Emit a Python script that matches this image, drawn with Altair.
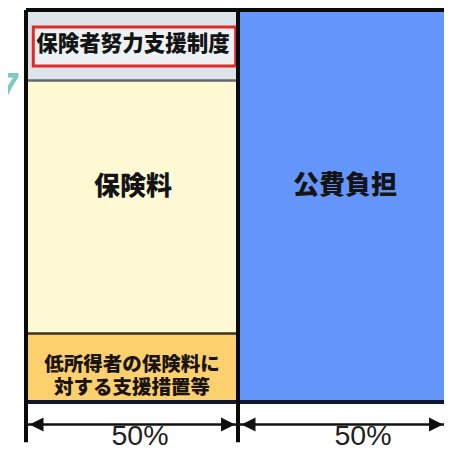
import altair as alt
import pandas as pd

# ---------------- data ----------------
column_names = ["保険料", "公費負担"]
column_shares = [50, 50]
share_labels = ["50%", "50%"]
left_parts = ["保険者努力支援制度", "保険料", "低所得者の保険料に\n対する支援措置等"]
left_part_heights = [18, 64.5, 17.5]
corner_fragment = ["7"]

# ---------------- styles ----------------
left_colors = ["#dde4e9", "#fffad4", "#fdd06e"]
right_color = "#6495fa"
separator_colors = ["#5f6a70", "#3b3322"]

# ---------------- derived tables ----------------
col_x0 = [sum(column_shares[:i]) for i in range(len(column_shares))]
col_x1 = [a + b for a, b in zip(col_x0, column_shares)]
col_mid = [(a + b) / 2 for a, b in zip(col_x0, col_x1)]
total_h = sum(left_part_heights)
tops, acc = [], total_h
for h in left_part_heights:
    tops.append(acc)
    acc -= h
bots = [t - h for t, h in zip(tops, left_part_heights)]
mids = [(t + b) / 2 for t, b in zip(tops, bots)]

X = alt.Scale(domain=[0, 100], range=[18, 442])
Y = alt.Scale(domain=[0, 100], range=[394, 2])
below_arrow = -5.75
below_label = -8.8
below_tick = -10.25


def xq(f):
    return alt.X(f, type="quantitative", scale=X, axis=None)


def yq(f):
    return alt.Y(f, type="quantitative", scale=Y, axis=None)


rect_df = pd.DataFrame({
    "x": [col_x0[0]] * len(left_parts) + [col_x0[1]],
    "x2": [col_x1[0]] * len(left_parts) + [col_x1[1]],
    "y": tops + [total_h],
    "y2": bots + [0],
    "fill": left_colors + [right_color],
})

rects = alt.Chart(rect_df).mark_rect().encode(
    x=xq("x"), x2="x2", y=yq("y"), y2="y2",
    color=alt.Color("fill:N", scale=None),
)

# red box around the top part label
red_df = pd.DataFrame({"x": [col_x0[0]], "x2": [col_x1[0]], "y": [tops[0]], "y2": [bots[0]]})
red_box = alt.Chart(red_df).mark_rect(
    fill="#eef1f4", stroke="#e02a2a", strokeWidth=3,
    xOffset=7.3, x2Offset=-2.3, yOffset=17, y2Offset=-14.5,
).encode(x=xq("x"), x2="x2", y=yq("y"), y2="y2")

# separators inside left column
sep_df = pd.DataFrame({
    "x": [col_x0[0]] * (len(left_parts) - 1),
    "x2": [col_x1[0]] * (len(left_parts) - 1),
    "y": bots[:-1],
    "c": separator_colors,
})
separators = alt.Chart(sep_df).mark_rule(strokeWidth=2.5).encode(
    x=xq("x"), x2="x2", y=yq("y"), color=alt.Color("c:N", scale=None)
)

# frame: top & bottom borders
hb_df = pd.DataFrame({"x": [col_x0[0], col_x0[0]], "x2": [col_x1[-1], col_x1[-1]],
                      "y": [total_h, 0], "c": ["#0a0a0a", "#101830"]})
hborders = alt.Chart(hb_df).mark_rule(strokeWidth=4).encode(
    x=xq("x"), x2="x2", y=yq("y"), color=alt.Color("c:N", scale=None)
)

# vertical borders extending down to the arrows
vb_df = pd.DataFrame({"x": col_x0, "y": [total_h] * len(col_x0), "y2": [below_tick] * len(col_x0)})
vborders = alt.Chart(vb_df).mark_rule(strokeWidth=4, color="#0a0a0a").encode(
    x=xq("x"), y=yq("y"), y2="y2"
)

# arrows
arr_df = pd.DataFrame({"x": col_x0, "x2": col_x1, "y": [below_arrow] * len(col_x0)})
arrow_lines = alt.Chart(arr_df).mark_rule(strokeWidth=2.5, color="#111").encode(
    x=xq("x"), x2=alt.X2("x2"), y=yq("y")
)
head_kw = dict(size=784, filled=True, color="#111", opacity=1, strokeWidth=0)
head_left = alt.Chart(arr_df).mark_point(
    shape="M0,0L1,-0.5L1,0.5Z", xOffset=3.5, **head_kw
).encode(x=xq("x"), y=yq("y"))
head_right_inner = alt.Chart(arr_df.iloc[[0]]).mark_point(
    shape="M0,0L-1,-0.5L-1,0.5Z", xOffset=-3, **head_kw
).encode(x=xq("x2"), y=yq("y"))
head_right_outer = alt.Chart(arr_df.iloc[[1]]).mark_point(
    shape="M0,0L-1,-0.5L-1,0.5Z", xOffset=-7, **head_kw
).encode(x=xq("x2"), y=yq("y"))

# texts
title_df = pd.DataFrame({"t": [left_parts[0]], "x": [col_mid[0]], "y": [mids[0]]})
title_text = alt.Chart(title_df).mark_text(
    font="Noto Sans CJK JP", fontWeight=900, fontSize=21.5, color="#141414", dx=1
).encode(x=xq("x"), y=yq("y"), text="t:N")

main_df = pd.DataFrame({"t": [left_parts[1], column_names[1]],
                        "x": col_mid, "y": [mids[1], total_h / 2]})
main_text = alt.Chart(main_df).mark_text(
    font="Noto Sans CJK JP", fontWeight=900, fontSize=26, color="#141414", dx=1, dy=-20
).encode(x=xq("x"), y=yq("y"), text="t:N")

low_df = pd.DataFrame({"t": [left_parts[2]], "x": [col_mid[0]], "y": [mids[2]]})
low_text = alt.Chart(low_df).mark_text(
    font="Noto Sans CJK JP", fontWeight=900, fontSize=19.5, color="#1a1410",
    lineBreak="\n", lineHeight=23.5, dy=-3
).encode(x=xq("x"), y=yq("y"), text="t:N")

pct_df = pd.DataFrame({"t": share_labels, "x": col_mid, "y": [below_label] * len(share_labels)})
pct_left = alt.Chart(pct_df.iloc[[0]]).mark_text(
    font="Liberation Sans", fontSize=28.5, color="#1f1f1f", dx=8
).encode(x=xq("x"), y=yq("y"), text="t:N")
pct_right = alt.Chart(pct_df.iloc[[1]]).mark_text(
    font="Liberation Sans", fontSize=28.5, color="#1f1f1f", dx=19
).encode(x=xq("x"), y=yq("y"), text="t:N")

frag_df = pd.DataFrame({"t": corner_fragment})
fragment = alt.Chart(frag_df).mark_text(
    font="Liberation Sans", fontSize=60, color="#80c9c0", align="right", baseline="alphabetic"
).encode(x=alt.value(13.4), y=alt.value(106), text="t:N")

chart = alt.layer(
    rects, red_box, separators, hborders, vborders,
    arrow_lines, head_left, head_right_inner, head_right_outer,
    title_text, main_text, low_text, pct_left, pct_right, fragment,
).properties(
    width=436, height=444, padding=0,
    autosize=alt.AutoSizeParams(type="none"),
    background="white",
).configure_view(stroke=None)

chart.save("out.html", embed_options={"renderer": "svg", "actions": False})
